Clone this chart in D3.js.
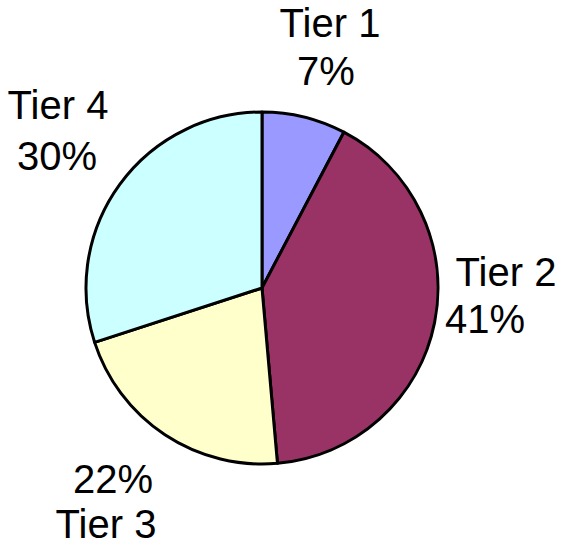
<!DOCTYPE html>
<html>
<head>
<meta charset="utf-8">
<script src="https://cdn.jsdelivr.net/npm/d3@7"></script>
<style>
  body { margin: 0; background: #fff; }
  text { font-family: "Liberation Sans", Arial, sans-serif; font-size: 40px; fill: #000; }
</style>
</head>
<body>
<script>
// Data
const tiers = ["Tier 1", "Tier 2", "Tier 3", "Tier 4"];
const shares = [7.7, 40.9, 21.4, 30.0];
// percentages as printed on the labels
const pctLabels = ["7%", "41%", "22%", "30%"];
const colors = ["#9999ff", "#993366", "#ffffcc", "#ccffff"];

// Label placement (name line / percent line), pixels
const labelPos = {
  "Tier 1": {name: [330, 37], pct: [326, 85]},
  "Tier 2": {name: [506, 286], pct: [485, 333]},
  "Tier 3": {name: [106, 538], pct: [113, 493]},
  "Tier 4": {name: [58, 119], pct: [57, 170]}
};

const width = 561, height = 546;
const cx = 262, cy = 288, radius = 176;

const data = tiers.map((t, i) => ({tier: t, value: shares[i], label: pctLabels[i], color: colors[i]}));

const svg = d3.select("body")
  .append("svg")
    .attr("width", width)
    .attr("height", height);

const pie = d3.pie()
    .value(d => d.value)
    .sort(null);

const arc = d3.arc()
    .innerRadius(0)
    .outerRadius(radius);

const g = svg.append("g")
    .attr("transform", "translate(" + cx + "," + cy + ")");

g.selectAll("path")
  .data(pie(data))
  .enter()
  .append("path")
    .attr("d", arc)
    .attr("fill", d => d.data.color)
    .attr("stroke", "#000")
    .attr("stroke-width", 3)
    .attr("stroke-linejoin", "round");

// Labels
data.forEach(d => {
  const p = labelPos[d.tier];
  svg.append("text")
      .attr("x", p.name[0])
      .attr("y", p.name[1])
      .attr("text-anchor", "middle")
      .text(d.tier);
  svg.append("text")
      .attr("x", p.pct[0])
      .attr("y", p.pct[1])
      .attr("text-anchor", "middle")
      .text(d.label);
});
</script>
</body>
</html>
